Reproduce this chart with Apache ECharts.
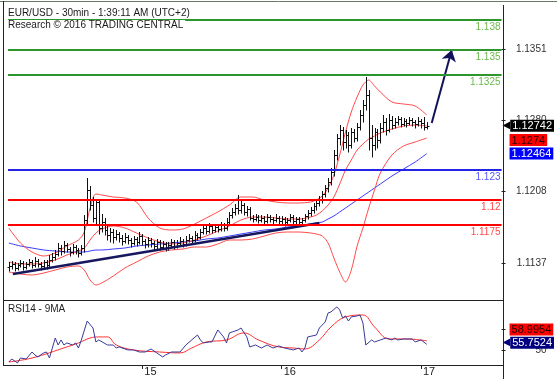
<!DOCTYPE html>
<html><head><meta charset="utf-8">
<script src="https://cdn.jsdelivr.net/npm/echarts@6/dist/echarts.min.js"></script>
<style>html,body{margin:0;padding:0;background:#fff}#c{width:557px;height:379px}</style>
</head><body><div id="c"></div>
<script>
// ---- data ----
const dayTicks = [48, 96, 144];
const dayLabels = ['15', '16', '17'];
const firstBar = 2;
// [open, high, low, close] per 30-min bar
const ohlc = [
[1.1133,1.1138,1.1129,1.1134],[1.1134,1.1139,1.1131,1.1136],[1.1136,1.1138,1.1129,1.1132],[1.1132,1.1137,1.1130,1.1135],
[1.1135,1.1140,1.1133,1.1137],[1.1137,1.1139,1.1130,1.1133],[1.1133,1.1138,1.1131,1.1136],[1.1136,1.1141,1.1134,1.1138],
[1.1138,1.1140,1.1132,1.1135],[1.1135,1.1143,1.1133,1.1139],[1.1139,1.1141,1.1133,1.1136],[1.1136,1.1138,1.1130,1.1134],
[1.1134,1.1140,1.1132,1.1138],[1.1138,1.1140,1.1131,1.1135],[1.1135,1.1145,1.1133,1.1140],[1.1140,1.1147,1.1138,1.1143],
[1.1143,1.1150,1.1140,1.1146],[1.1146,1.1157,1.1144,1.1152],[1.1152,1.1155,1.1145,1.1149],[1.1149,1.1159,1.1147,1.1155],
[1.1155,1.1157,1.1148,1.1151],[1.1151,1.1153,1.1144,1.1148],[1.1148,1.1156,1.1146,1.1153],[1.1153,1.1155,1.1146,1.1150],
[1.1150,1.1152,1.1143,1.1147],[1.1147,1.1155,1.1145,1.1152],[1.1152,1.1185,1.1148,1.1180],[1.1180,1.1222,1.1176,1.1210],
[1.1210,1.1214,1.1190,1.1195],[1.1195,1.1203,1.1178,1.1182],[1.1182,1.1201,1.1176,1.1198],[1.1198,1.1199,1.1166,1.1172],
[1.1172,1.1186,1.1168,1.1178],[1.1178,1.1182,1.1165,1.1170],[1.1170,1.1174,1.1160,1.1165],[1.1165,1.1172,1.1158,1.1168],
[1.1168,1.1171,1.1157,1.1163],[1.1163,1.1170,1.1160,1.1166],[1.1166,1.1168,1.1158,1.1162],[1.1162,1.1165,1.1155,1.1159],
[1.1159,1.1167,1.1157,1.1163],[1.1163,1.1165,1.1156,1.1160],[1.1160,1.1162,1.1153,1.1157],[1.1157,1.1164,1.1155,1.1161],
[1.1161,1.1163,1.1154,1.1158],[1.1158,1.1168,1.1156,1.1164],[1.1164,1.1166,1.1155,1.1159],[1.1159,1.1161,1.1152,1.1156],
[1.1156,1.1163,1.1153,1.1160],[1.1160,1.1162,1.1153,1.1157],[1.1157,1.1159,1.1150,1.1154],[1.1154,1.1161,1.1151,1.1158],
[1.1158,1.1160,1.1150,1.1153],[1.1153,1.1159,1.1151,1.1156],[1.1156,1.1158,1.1149,1.1152],[1.1152,1.1158,1.1150,1.1155],
[1.1155,1.1161,1.1153,1.1158],[1.1158,1.1160,1.1151,1.1154],[1.1154,1.1160,1.1152,1.1157],[1.1157,1.1163,1.1155,1.1159],
[1.1159,1.1161,1.1153,1.1156],[1.1156,1.1164,1.1154,1.1160],[1.1160,1.1166,1.1158,1.1162],[1.1162,1.1164,1.1157,1.1160],
[1.1160,1.1169,1.1158,1.1165],[1.1165,1.1167,1.1160,1.1163],[1.1163,1.1171,1.1161,1.1168],[1.1168,1.1176,1.1166,1.1172],
[1.1172,1.1174,1.1166,1.1169],[1.1169,1.1177,1.1167,1.1174],[1.1174,1.1176,1.1167,1.1170],[1.1170,1.1176,1.1168,1.1173],
[1.1173,1.1175,1.1168,1.1171],[1.1171,1.1178,1.1169,1.1175],[1.1175,1.1177,1.1169,1.1172],[1.1172,1.1182,1.1170,1.1178],
[1.1178,1.1188,1.1176,1.1185],[1.1185,1.1192,1.1182,1.1188],[1.1188,1.1196,1.1185,1.1192],[1.1192,1.1205,1.1186,1.1190],
[1.1190,1.1199,1.1187,1.1195],[1.1195,1.1197,1.1185,1.1188],[1.1188,1.1194,1.1184,1.1191],[1.1191,1.1193,1.1180,1.1182],
[1.1182,1.1185,1.1178,1.1181],[1.1181,1.1186,1.1179,1.1183],[1.1183,1.1185,1.1177,1.1180],[1.1180,1.1185,1.1178,1.1182],
[1.1182,1.1184,1.1176,1.1179],[1.1179,1.1186,1.1177,1.1183],[1.1183,1.1185,1.1178,1.1181],[1.1181,1.1183,1.1176,1.1180],
[1.1180,1.1186,1.1178,1.1182],[1.1182,1.1184,1.1176,1.1179],[1.1179,1.1184,1.1176,1.1181],[1.1181,1.1183,1.1174,1.1178],
[1.1178,1.1182,1.1175,1.1180],[1.1180,1.1186,1.1178,1.1183],[1.1183,1.1185,1.1176,1.1179],[1.1179,1.1183,1.1176,1.1181],
[1.1181,1.1183,1.1175,1.1178],[1.1178,1.1182,1.1175,1.1180],[1.1180,1.1186,1.1178,1.1184],[1.1184,1.1190,1.1181,1.1187],
[1.1187,1.1193,1.1184,1.1190],[1.1190,1.1197,1.1187,1.1194],[1.1194,1.1200,1.1190,1.1197],[1.1197,1.1204,1.1194,1.1200],
[1.1200,1.1209,1.1197,1.1206],[1.1206,1.1215,1.1203,1.1212],[1.1212,1.1222,1.1208,1.1218],[1.1218,1.1232,1.1215,1.1228],
[1.1228,1.1250,1.1224,1.1245],[1.1245,1.1266,1.1240,1.1262],[1.1262,1.1275,1.1255,1.1270],[1.1270,1.1273,1.1250,1.1258],
[1.1258,1.1270,1.1252,1.1265],[1.1265,1.1268,1.1248,1.1255],[1.1255,1.1272,1.1252,1.1268],[1.1268,1.1271,1.1258,1.1262],
[1.1262,1.1277,1.1259,1.1273],[1.1273,1.1290,1.1270,1.1285],[1.1285,1.1300,1.1278,1.1295],[1.1295,1.1323,1.1290,1.1305],
[1.1305,1.1310,1.1250,1.1262],[1.1262,1.1275,1.1243,1.1255],[1.1255,1.1272,1.1250,1.1268],[1.1268,1.1271,1.1252,1.1260],
[1.1260,1.1277,1.1257,1.1272],[1.1272,1.1285,1.1268,1.1278],[1.1278,1.1282,1.1265,1.1270],[1.1270,1.1286,1.1268,1.1280],
[1.1280,1.1284,1.1271,1.1275],[1.1275,1.1282,1.1272,1.1278],[1.1278,1.1284,1.1275,1.1281],[1.1281,1.1283,1.1273,1.1276],
[1.1276,1.1282,1.1274,1.1279],[1.1279,1.1281,1.1273,1.1277],[1.1277,1.1283,1.1275,1.1280],[1.1280,1.1282,1.1274,1.1278],
[1.1278,1.1280,1.1272,1.1276],[1.1276,1.1283,1.1274,1.1279],[1.1279,1.1281,1.1272,1.1277],[1.1277,1.1283,1.1270,1.1273],
[1.1273,1.1278,1.1271,1.12742]
];
const bandIdx = [2,6,10,14,18,22,26,28,30,32,34,38,42,46,50,54,58,62,66,70,74,78,82,86,90,94,98,102,106,108,110,112,114,116,118,120,122,124,126,128,130,134,138,142,146];
const bbUpper = [1.1172,1.1157,1.1148,1.1144,1.1147,1.1154,1.1160,1.1168,1.1192,1.1206,1.1205,1.1203,1.1202,1.1198,1.1182,1.1172,1.1170,1.1171,1.1176,1.1182,1.1188,1.1195,1.1203,1.1203,1.1200,1.1198,1.1197,1.1197,1.1198,1.1200,1.1204,1.1212,1.1225,1.1245,1.1268,1.1288,1.1303,1.1315,1.1320,1.1314,1.1308,1.1298,1.1296,1.1294,1.1285];
const bbMid = [1.1138,1.1136,1.1136,1.1137,1.1140,1.1145,1.1149,1.1152,1.1160,1.1167,1.1171,1.1174,1.1172,1.1167,1.1162,1.1158,1.1156,1.1157,1.1160,1.1164,1.1169,1.1174,1.1180,1.1183,1.1183,1.1182,1.1181,1.1181,1.1183,1.1185,1.1189,1.1195,1.1203,1.1216,1.1230,1.1240,1.1250,1.1256,1.1261,1.1264,1.1267,1.1271,1.1274,1.1275,1.1274];
const bbLower = [1.1128,1.1126,1.1125,1.1127,1.1130,1.1133,1.1134,1.1130,1.1120,1.1115,1.1117,1.1124,1.1132,1.1138,1.1144,1.1148,1.1150,1.1151,1.1153,1.1153,1.1156,1.1160,1.1160,1.1161,1.1164,1.1167,1.1168,1.1168,1.1167,1.1166,1.1164,1.1157,1.1142,1.1128,1.1118,1.1130,1.1154,1.1172,1.1192,1.1210,1.1227,1.1245,1.1254,1.1258,1.1262];
const movAvg = [1.1157,1.1154,1.1152,1.1150,1.1149,1.1148,1.1148,1.1148,1.1149,1.1150,1.1150,1.1151,1.1152,1.1154,1.1155,1.1156,1.1157,1.1158,1.1159,1.1161,1.1162,1.1164,1.1166,1.1168,1.1170,1.1171,1.1173,1.1174,1.1176,1.1177,1.1178,1.1181,1.1184,1.1188,1.1192,1.1196,1.1200,1.1204,1.1208,1.1212,1.1216,1.1224,1.1231,1.1238,1.12464];
const levelValues = [1.138, 1.135, 1.1325, 1.123, 1.12, 1.1175];
const levelLabels = ['1.138', '1.135', '1.1325', '1.123', '1.12', '1.1175'];
const levelKinds = ['res', 'res', 'res', 'pivot', 'sup', 'sup'];
const trendFrom = [3.4, 1.1126], trendTo = [109, 1.1177];
const arrowFrom = [147.7, 1.1277], arrowTo = [154.6, 1.1350];
const priceTicks = [1.1137, 1.12083, 1.12797, 1.1351];
const priceBoxPos = [1.12742, 1.1260, 1.12464];
const priceBoxText = ['1.12742', '1.1274', '1.12464'];
const priceBoxKind = ['last', 'mid', 'ma'];
const rsiIdx = [2,3,5,6,8,10,11,12,14,15,16,17,18,19,20,21,22,24,25,26,27,29,31,32,33,36,38,39,40,43,45,47,49,51,53,55,56,58,61,63,67,68,69,71,72,74,76,77,78,79,81,82,84,85,87,89,91,93,95,97,100,102,103,104,105,108,109,111,112,113,115,116,117,118,119,120,122,123,124,125,127,128,130,132,134,135,136,138,141,142,144,146];
const rsiVals = [39.3,42.1,38.4,43.0,42.1,48.6,45.8,44.0,47.7,48.6,43.0,52.3,61.6,55.1,59.8,55.1,57.0,55.1,57.0,52.3,59.8,77.4,70.9,57.9,59.8,55.1,55.1,52.3,53.3,50.5,50.5,48.6,48.6,51.4,47.7,44.0,45.8,48.6,48.6,55.1,64.4,59.8,57.0,57.9,57.9,69.1,62.6,57.0,66.3,67.2,69.1,70.9,62.6,53.3,55.1,52.3,55.1,52.3,54.2,52.3,50.5,52.3,48.6,52.3,62.6,64.4,70.9,76.5,84.9,85.8,90.5,87.7,80.2,82.1,77.4,81.2,82.1,83.0,75.6,55.1,59.8,57.9,59.8,61.6,59.8,61.6,59.8,60.7,60.7,57.9,59.8,55.75];
const rsiMaIdx = [2,10,22,26,30,33,36,39,45,54,61,65,70,77,83,88,95,100,104,109,113,118,124,128,133,139,146];
const rsiMaVals = [39.3,43.0,53.3,57.0,61.6,62.6,62.6,55.1,50.5,48.6,47.7,52.3,57.9,59.8,66.3,59.8,53.3,52.3,51.4,59.8,71.9,81.2,83.0,71.9,60.7,60.7,58.9954];
const rsiTicks = [50, 70];
const rsiLabels = [50];
const rsiBoxPos = [69.5, 57.2];
const rsiBoxText = ['58.9954', '55.7524'];
const rsiBoxKind = ['mid', 'rsiLast'];

// ---- styling ----
const FONT = '"Liberation Sans", Arial, sans-serif';
const FS = 10;
const X_MIN = 1.72, X_MAX = 171.76;
const P_MIN = 1.1100, P_MAX = 1.1398;
const R_MIN = 36.5, R_MAX = 96;
const levelStyle = {
  res: { line: '#2c962c', text: '#6ab84a' },
  pivot: { line: '#2424e6', text: '#5555ff' },
  sup: { line: '#ff0000', text: '#ff4a4a' }
};
const boxRich = {
  arw: { color: '#000', fontSize: 10, fontFamily: 'DejaVu Sans', padding: [0, 0, 0, 0] },
  arwN: { color: '#000080', fontSize: 10, fontFamily: 'DejaVu Sans', padding: [0, 0, 0, 0] },
  sp: { width: 7 },
  last: { backgroundColor: '#000', color: '#fff', fontSize: 11, fontFamily: FONT, padding: [1, 2, 0, 2] },
  mid: { backgroundColor: '#ff0000', color: '#200', fontSize: 11, fontFamily: FONT, padding: [1, 2, 0, 2] },
  ma: { backgroundColor: '#0000ff', color: '#fff', fontSize: 11, fontFamily: FONT, padding: [1, 2, 0, 2] },
  rsiLast: { backgroundColor: '#000080', color: '#fff', fontSize: 11, fontFamily: FONT, padding: [1, 2, 0, 2] }
};
function boxFormatter(posArr, textArr, kindArr) {
  return function (v) {
    for (let k = 0; k < posArr.length; k++) {
      if (Math.abs(posArr[k] - v) < 1e-6) {
        const kind = kindArr[k];
        if (kind === 'last') return '{arw|◀}{last|' + textArr[k] + '}';
        if (kind === 'rsiLast') return '{arwN|◀}{rsiLast|' + textArr[k] + '}';
        return '{sp|}{' + kind + '|' + textArr[k] + '}';
      }
    }
    return '';
  };
}

const chart = echarts.init(document.getElementById('c'), null, { renderer: 'canvas' });
const bandData = arr => bandIdx.map((x, k) => [x, arr[k]]);

const option = {
  animation: false,
  backgroundColor: '#fff',
  title: [
    {
      left: 6, top: 7, padding: 0,
      text: '{a|EUR/USD - 30min - 1:39:11 AM (UTC+2)}\n{a|Research © 2016 TRADING CENTRAL}',
      textStyle: { fontWeight: 'normal', rich: { a: { fontSize: FS, fontWeight: 'normal', color: '#1a1a1a', fontFamily: FONT, backgroundColor: '#fff', lineHeight: 12, padding: [0, 2, 0, 2] } } }
    },
    {
      left: 8, top: 304, padding: 0, text: 'RSI14 - 9MA',
      textStyle: { fontSize: FS, fontWeight: 'normal', color: '#222', fontFamily: FONT }
    }
  ],
  grid: [
    { left: 8, right: 54, top: 2, height: 298 },
    { left: 8, right: 54, top: 301, height: 64 }
  ],
  xAxis: [
    { gridIndex: 0, type: 'value', min: X_MIN, max: X_MAX, show: false },
    {
      gridIndex: 1, type: 'value', min: X_MIN, max: X_MAX,
      axisLine: { show: false }, splitLine: { show: false },
      axisTick: { show: true, length: 4, customValues: dayTicks, lineStyle: { color: '#222' } },
      axisLabel: {
        customValues: dayTicks, margin: 1, align: 'left', padding: [0, 0, 0, 2],
        fontSize: 11, color: '#222', fontFamily: FONT,
        formatter: v => dayLabels[dayTicks.indexOf(Math.round(v))] || ''
      }
    }
  ],
  yAxis: [
    {
      gridIndex: 0, type: 'value', position: 'right', min: P_MIN, max: P_MAX,
      axisLine: { show: false }, splitLine: { show: false },
      axisTick: { show: true, length: 4, customValues: priceTicks, lineStyle: { color: '#222' } },
      axisLabel: {
        customValues: priceTicks, margin: 45, align: 'right', fontSize: FS, color: '#333', fontFamily: FONT,
        formatter: v => v.toFixed(4)
      }
    },
    {
      gridIndex: 0, type: 'value', position: 'right', min: P_MIN, max: P_MAX,
      axisLine: { show: false }, axisTick: { show: false }, splitLine: { show: false },
      axisLabel: {
        customValues: priceBoxPos, margin: 1, align: 'left',
        formatter: boxFormatter(priceBoxPos, priceBoxText, priceBoxKind), rich: boxRich
      }
    },
    {
      gridIndex: 1, type: 'value', position: 'right', min: R_MIN, max: R_MAX,
      axisLine: { show: false }, splitLine: { show: false },
      axisTick: { show: true, length: 4, customValues: rsiTicks, lineStyle: { color: '#222' } },
      axisLabel: {
        customValues: rsiLabels, margin: 45, align: 'right', fontSize: FS, color: '#333', fontFamily: FONT,
        formatter: v => String(v)
      }
    },
    {
      gridIndex: 1, type: 'value', position: 'right', min: R_MIN, max: R_MAX,
      axisLine: { show: false }, axisTick: { show: false }, splitLine: { show: false },
      axisLabel: {
        customValues: rsiBoxPos, margin: 1, align: 'left',
        formatter: boxFormatter(rsiBoxPos, rsiBoxText, rsiBoxKind), rich: boxRich
      }
    }
  ],
  series: [
    {
      type: 'line', name: 'ma', xAxisIndex: 0, yAxisIndex: 0, z: 1,
      data: bandData(movAvg), showSymbol: false, smooth: 0.3,
      lineStyle: { color: '#3c3cff', width: 1 },
      markLine: {
        silent: true, symbol: 'none', precision: 6,
        data: levelValues.map((v, k) => ({
          yAxis: v, name: levelLabels[k],
          lineStyle: { color: levelStyle[levelKinds[k]].line, width: 2, type: 'solid' },
          label: {
            show: true, position: 'insideEndBottom', formatter: levelLabels[k], distance: [1, 2],
            color: levelStyle[levelKinds[k]].text, fontSize: FS, fontFamily: FONT
          }
        }))
      }
    },
    { type: 'line', xAxisIndex: 0, yAxisIndex: 0, z: 2, data: bandData(bbUpper), showSymbol: false, smooth: 0.3, lineStyle: { color: '#ff4a4a', width: 1 } },
    { type: 'line', xAxisIndex: 0, yAxisIndex: 0, z: 2, data: bandData(bbMid), showSymbol: false, smooth: 0.3, lineStyle: { color: '#ff4a4a', width: 1 } },
    { type: 'line', xAxisIndex: 0, yAxisIndex: 0, z: 2, data: bandData(bbLower), showSymbol: false, smooth: 0.3, lineStyle: { color: '#ff4a4a', width: 1 } },
    {
      type: 'custom', xAxisIndex: 0, yAxisIndex: 0, z: 3,
      data: ohlc.map((d, k) => [firstBar + k, d[0], d[1], d[2], d[3]]),
      encode: { x: 0, y: [1, 2, 3, 4] },
      renderItem: function (params, api) {
        const x = api.value(0);
        const o = api.coord([x, api.value(1)]);
        const h = api.coord([x, api.value(2)]);
        const l = api.coord([x, api.value(3)]);
        const c = api.coord([x, api.value(4)]);
        const px = Math.round(o[0]) + 0.5;
        const oy = Math.round(o[1]) + 0.5, cy = Math.round(c[1]) + 0.5;
        const st = { stroke: '#111', lineWidth: 1 };
        return {
          type: 'group', children: [
            { type: 'line', shape: { x1: px, y1: h[1], x2: px, y2: l[1] + 0.5 }, style: st },
            { type: 'line', shape: { x1: px - 2, y1: oy, x2: px, y2: oy }, style: st },
            { type: 'line', shape: { x1: px, y1: cy, x2: px + 2, y2: cy }, style: st }
          ]
        };
      }
    },
    {
      type: 'lines', coordinateSystem: 'cartesian2d', xAxisIndex: 0, yAxisIndex: 0, z: 4,
      data: [{ coords: [trendFrom, trendTo] }],
      lineStyle: { color: '#17175e', width: 2.5, opacity: 1 }
    },
    {
      type: 'lines', coordinateSystem: 'cartesian2d', xAxisIndex: 0, yAxisIndex: 0, z: 4,
      symbol: ['none', 'arrow'], symbolSize: [8, 11],
      data: [{ coords: [arrowFrom, arrowTo] }],
      lineStyle: { color: '#12125a', width: 2, opacity: 1 }
    },
    {
      type: 'line', xAxisIndex: 1, yAxisIndex: 2, z: 2, smooth: 0.4,
      data: rsiMaIdx.map((x, k) => [x, rsiMaVals[k]]), showSymbol: false,
      lineStyle: { color: '#ff3030', width: 1 }
    },
    {
      type: 'line', xAxisIndex: 1, yAxisIndex: 2, z: 3,
      data: rsiIdx.map((x, k) => [x, rsiVals[k]]), showSymbol: false,
      lineStyle: { color: '#3a3a9a', width: 1 }
    }
  ],
  graphic: [
    { type: 'line', z: 100, shape: { x1: 0, y1: 1.5, x2: 557, y2: 1.5 }, style: { stroke: '#6a786a', lineWidth: 1 } },
    { type: 'line', z: 100, shape: { x1: 3.5, y1: 1, x2: 3.5, y2: 366 }, style: { stroke: '#222', lineWidth: 1 } },
    { type: 'line', z: 100, shape: { x1: 503.5, y1: 5, x2: 503.5, y2: 379 }, style: { stroke: '#222', lineWidth: 1 } },
    { type: 'line', z: 100, shape: { x1: 3, y1: 300.5, x2: 504, y2: 300.5 }, style: { stroke: '#222', lineWidth: 1 } },
    { type: 'line', z: 100, shape: { x1: 3, y1: 365.5, x2: 504, y2: 365.5 }, style: { stroke: '#222', lineWidth: 1 } }
  ]
};
chart.setOption(option);
</script>
</body></html>
